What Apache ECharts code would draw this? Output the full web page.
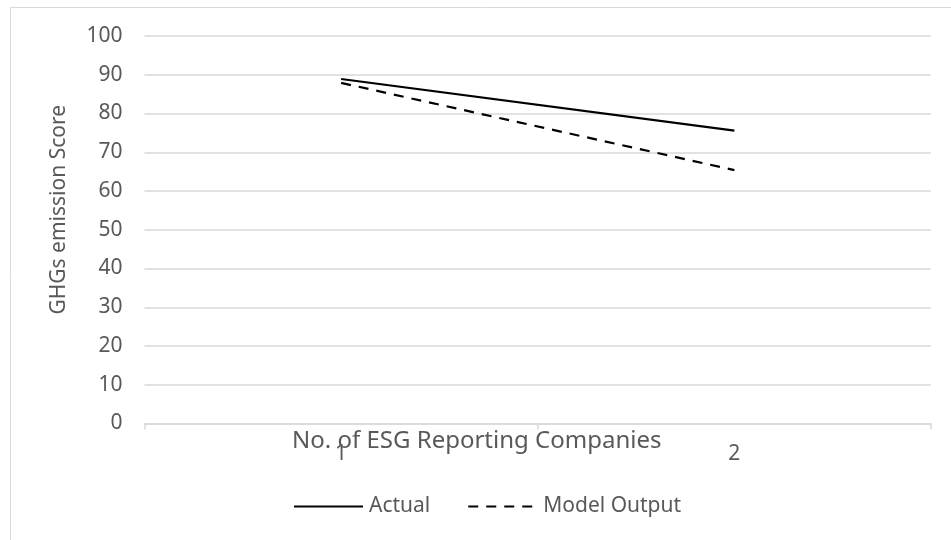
<!DOCTYPE html>
<html>
<head>
<meta charset="utf-8">
<script src="https://cdn.jsdelivr.net/npm/echarts@6/dist/echarts.min.js"></script>
<style>
  html, body { margin: 0; padding: 0; background: #fff; }
  #chart { width: 951px; height: 540px; }
</style>
</head>
<body>
<div id="chart"></div>
<script>
// Companies on the x axis and the two score series
const categories = ['1', '2'];
const actual = [88.9, 75.6];
const modelOutput = [87.9, 65.4];
const yTicks = [0, 10, 20, 30, 40, 50, 60, 70, 80, 90, 100];

const FONT = '"Noto Sans", "Open Sans", sans-serif';
const TEXT = '#595959';
const GRID = '#d9d9d9';

const chart = echarts.init(document.getElementById('chart'), null, { renderer: 'canvas' });

chart.setOption({
  backgroundColor: '#ffffff',
  animation: false,
  textStyle: { fontFamily: FONT },
  graphic: [{
    type: 'rect',
    shape: { x: 10.5, y: 7.5, width: 1200, height: 1200 },
    style: { fill: 'none', stroke: GRID, lineWidth: 1 },
    silent: true,
    z: -10
  }],
  grid: { left: 144.5, right: 20, top: 36, bottom: 116.5, containLabel: false },
  legend: {
    top: 491,
    left: 288,
    itemWidth: 69,
    itemHeight: 14,
    itemGap: 37,
    itemStyle: { opacity: 0 },
    textStyle: { color: TEXT, fontSize: 21, fontFamily: FONT, padding: [0, 0, 0, 1] },
    data: ['Actual', 'Model Output']
  },
  xAxis: {
    type: 'category',
    data: categories,
    boundaryGap: true,
    name: 'No. of ESG Reporting Companies',
    nameLocation: 'middle',
    nameGap: 6,
    nameMoveOverlap: false,
    nameTextStyle: { color: TEXT, fontSize: 24, fontFamily: FONT, padding: [0, 122, 0, 0] },
    axisLine: { show: true, lineStyle: { color: GRID, width: 1.5 } },
    axisTick: { show: true, length: 6, inside: false, lineStyle: { color: GRID, width: 1.5 } },
    axisLabel: { color: TEXT, fontSize: 21, margin: 20, fontFamily: FONT },
    splitLine: { show: false }
  },
  yAxis: {
    type: 'value',
    min: yTicks[0],
    max: yTicks[yTicks.length - 1],
    interval: 10,
    name: 'GHGs emission Score',
    nameLocation: 'middle',
    nameGap: 75,
    nameRotate: 90,
    nameTextStyle: { color: TEXT, fontSize: 21, fontFamily: FONT, padding: [0, 0, 0, 40] },
    axisLine: { show: false },
    axisTick: { show: false },
    axisLabel: { color: TEXT, fontSize: 21, margin: 22, fontFamily: FONT },
    splitLine: { show: true, lineStyle: { color: GRID, width: 1.5 } }
  },
  series: [
    {
      name: 'Actual',
      type: 'line',
      data: actual,
      symbol: 'none',
      color: '#000000',
      lineStyle: { color: '#000000', width: 2.2 }
    },
    {
      name: 'Model Output',
      type: 'line',
      data: modelOutput,
      symbol: 'none',
      color: '#000000',
      lineStyle: { color: '#000000', width: 2.2, type: [10, 8] }
    }
  ]
});
</script>
</body>
</html>
